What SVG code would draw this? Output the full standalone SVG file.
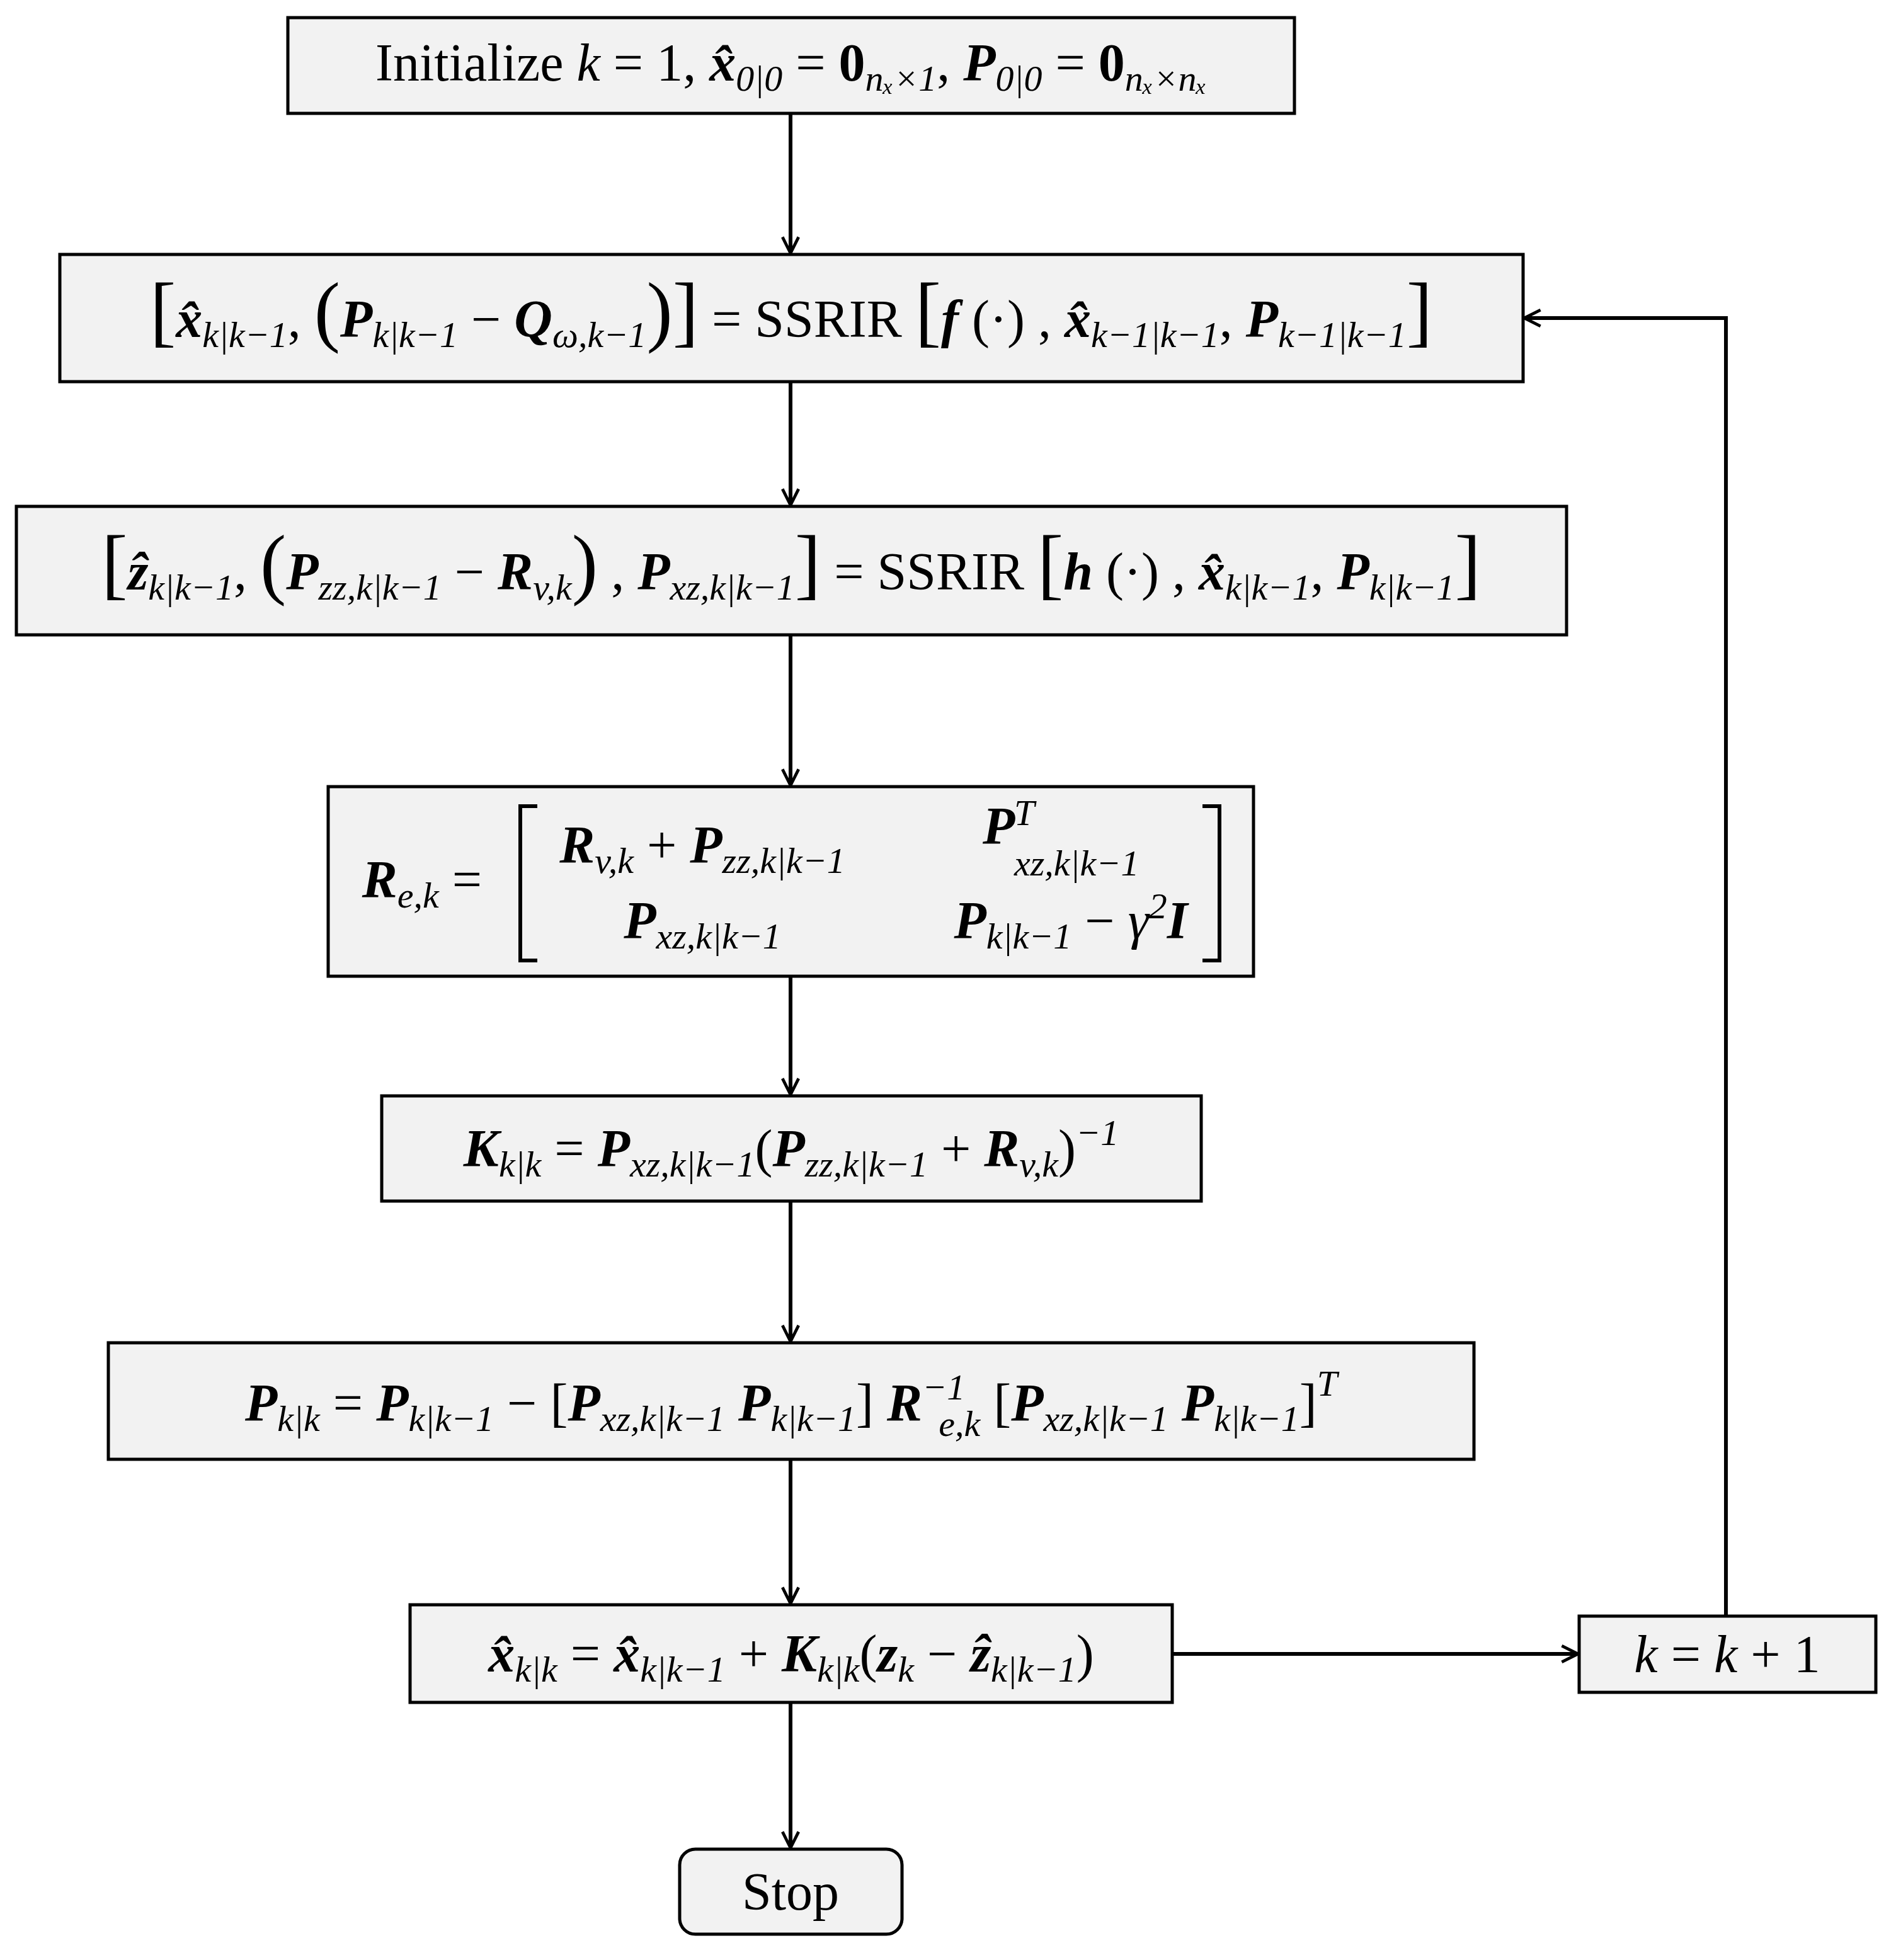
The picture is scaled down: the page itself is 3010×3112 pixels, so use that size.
<svg xmlns="http://www.w3.org/2000/svg" width="3010" height="3112" viewBox="0 0 3010 3112">
<style>
.box{fill:#f2f2f2;stroke:#000;stroke-width:5}
.c{stroke:#000;stroke-width:6;fill:none}
text{font-family:"Liberation Serif","DejaVu Serif",serif;font-size:84px;fill:#000;text-anchor:middle}
.b{font-weight:bold;font-style:italic}
.bu{font-weight:bold}
.i{font-style:italic}
.s{font-size:58px;font-style:italic}
.L{font-size:124px}
</style>
<defs>
<marker id="h" viewBox="0 0 20 20" refX="18" refY="10" markerWidth="32" markerHeight="32" orient="auto" markerUnits="userSpaceOnUse"><path d="M2,2 L18,10 L2,18" fill="none" stroke="#000" stroke-width="3"/></marker></defs>
<g id="connectors">
<path class="c" marker-end="url(#h)" d="M1255,180 V402"/>
<path class="c" marker-end="url(#h)" d="M1255,606 V802"/>
<path class="c" marker-end="url(#h)" d="M1255,1008 V1247"/>
<path class="c" marker-end="url(#h)" d="M1255,1550 V1738"/>
<path class="c" marker-end="url(#h)" d="M1255,1907 V2130"/>
<path class="c" marker-end="url(#h)" d="M1255,2317 V2546"/>
<path class="c" marker-end="url(#h)" d="M1255,2703 V2934"/>
<path class="c" marker-end="url(#h)" d="M1861,2626 H2505"/>
<path class="c" marker-end="url(#h)" d="M2740,2566 V505 H2420"/>
</g>
<g id="n1"><rect class="box" x="457" y="28" width="1598" height="152"/>
<text x="1256" y="128">Initialize <tspan class="i">k</tspan> = 1, <tspan class="b">x̂</tspan><tspan class="s" dy="16">0|0</tspan><tspan dy="-16"> = </tspan><tspan class="bu">0</tspan><tspan class="s" dy="16">nₓ×1</tspan><tspan dy="-16">, </tspan><tspan class="b">P</tspan><tspan class="s" dy="16">0|0</tspan><tspan dy="-16"> = </tspan><tspan class="bu">0</tspan><tspan class="s" dy="16">nₓ×nₓ</tspan></text></g>
<g id="n2"><rect class="box" x="95" y="404" width="2323" height="202"/>
<text x="1256" y="535"><tspan class="L">[</tspan><tspan class="b">x̂</tspan><tspan class="s" dy="16">k|k−1</tspan><tspan dy="-16">, </tspan><tspan class="L">(</tspan><tspan class="b">P</tspan><tspan class="s" dy="16">k|k−1</tspan><tspan dy="-16"> − </tspan><tspan class="b">Q</tspan><tspan class="s" dy="16">ω,k−1</tspan><tspan dy="-16" class="L">)</tspan><tspan class="L">]</tspan> = SSRIR <tspan class="L">[</tspan><tspan class="b">f</tspan> (·) , <tspan class="b">x̂</tspan><tspan class="s" dy="16">k−1|k−1</tspan><tspan dy="-16">, </tspan><tspan class="b">P</tspan><tspan class="s" dy="16">k−1|k−1</tspan><tspan dy="-16" class="L">]</tspan></text></g>
<g id="n3"><rect class="box" x="26" y="804" width="2461" height="204"/>
<text x="1256" y="936"><tspan class="L">[</tspan><tspan class="b">ẑ</tspan><tspan class="s" dy="16">k|k−1</tspan><tspan dy="-16">, </tspan><tspan class="L">(</tspan><tspan class="b">P</tspan><tspan class="s" dy="16">zz,k|k−1</tspan><tspan dy="-16"> − </tspan><tspan class="b">R</tspan><tspan class="s" dy="16">v,k</tspan><tspan dy="-16" class="L">)</tspan> , <tspan class="b">P</tspan><tspan class="s" dy="16">xz,k|k−1</tspan><tspan dy="-16" class="L">]</tspan> = SSRIR <tspan class="L">[</tspan><tspan class="b">h</tspan> (·) , <tspan class="b">x̂</tspan><tspan class="s" dy="16">k|k−1</tspan><tspan dy="-16">, </tspan><tspan class="b">P</tspan><tspan class="s" dy="16">k|k−1</tspan><tspan dy="-16" class="L">]</tspan></text></g>
<g id="n4"><rect class="box" x="521" y="1249" width="1469" height="301"/>
<text x="670" y="1425"><tspan class="b">R</tspan><tspan class="s" dy="16">e,k</tspan><tspan dy="-16"> =</tspan></text>
<path class="c" d="M853,1280 H826 V1525 H853 M1909,1280 H1936 V1525 H1909" stroke-width="5"/>
<text x="1115" y="1370"><tspan class="b">R</tspan><tspan class="s" dy="16">v,k</tspan><tspan dy="-16"> + </tspan><tspan class="b">P</tspan><tspan class="s" dy="16">zz,k|k−1</tspan></text>
<text x="1560" y="1340" style="text-anchor:start" class="b">P</text>
<text x="1610" y="1310" style="text-anchor:start" class="s">T</text>
<text x="1610" y="1390" style="text-anchor:start" class="s">xz,k|k−1</text>
<text x="1115" y="1490"><tspan class="b">P</tspan><tspan class="s" dy="16">xz,k|k−1</tspan></text>
<text x="1700" y="1490"><tspan class="b">P</tspan><tspan class="s" dy="16">k|k−1</tspan><tspan dy="-16"> − </tspan><tspan class="i">γ</tspan><tspan class="s" dy="-32">2</tspan><tspan class="b" dy="32">I</tspan></text></g>
<g id="n5"><rect class="box" x="606" y="1740" width="1301" height="167"/>
<text x="1256" y="1852"><tspan class="b">K</tspan><tspan class="s" dy="16">k|k</tspan><tspan dy="-16"> = </tspan><tspan class="b">P</tspan><tspan class="s" dy="16">xz,k|k−1</tspan><tspan dy="-16">(</tspan><tspan class="b">P</tspan><tspan class="s" dy="16">zz,k|k−1</tspan><tspan dy="-16"> + </tspan><tspan class="b">R</tspan><tspan class="s" dy="16">v,k</tspan><tspan dy="-16">)</tspan><tspan class="s" dy="-34">−1</tspan></text></g>
<g id="n6"><rect class="box" x="172" y="2132" width="2168" height="185"/>
<text x="1256" y="2256"><tspan class="b">P</tspan><tspan class="s" dy="16">k|k</tspan><tspan dy="-16"> = </tspan><tspan class="b">P</tspan><tspan class="s" dy="16">k|k−1</tspan><tspan dy="-16"> − [</tspan><tspan class="b">P</tspan><tspan class="s" dy="16">xz,k|k−1</tspan><tspan dy="-16">    </tspan><tspan class="b">P</tspan><tspan class="s" dy="16">k|k−1</tspan><tspan dy="-16">] </tspan><tspan class="b">R</tspan><tspan class="s" dy="-34">−1</tspan><tspan class="s" dy="58" dx="-42">e,k</tspan><tspan dy="-24"> [</tspan><tspan class="b">P</tspan><tspan class="s" dy="16">xz,k|k−1</tspan><tspan dy="-16">    </tspan><tspan class="b">P</tspan><tspan class="s" dy="16">k|k−1</tspan><tspan dy="-16">]</tspan><tspan class="s" dy="-40">T</tspan></text></g>
<g id="n7"><rect class="box" x="651" y="2548" width="1210" height="155"/>
<text x="1256" y="2654"><tspan class="b">x̂</tspan><tspan class="s" dy="16">k|k</tspan><tspan dy="-16"> = </tspan><tspan class="b">x̂</tspan><tspan class="s" dy="16">k|k−1</tspan><tspan dy="-16"> + </tspan><tspan class="b">K</tspan><tspan class="s" dy="16">k|k</tspan><tspan dy="-16">(</tspan><tspan class="b">z</tspan><tspan class="s" dy="16">k</tspan><tspan dy="-16"> − </tspan><tspan class="b">ẑ</tspan><tspan class="s" dy="16">k|k−1</tspan><tspan dy="-16">)</tspan></text></g>
<g id="n8"><rect class="box" x="2507" y="2566" width="471" height="121"/>
<text x="2742" y="2655"><tspan class="i">k</tspan> = <tspan class="i">k</tspan> + 1</text></g>
<g id="stop"><rect class="box" x="1079" y="2936" width="353" height="135" rx="25"/>
<text x="1255" y="3032">Stop</text></g>
</svg>
